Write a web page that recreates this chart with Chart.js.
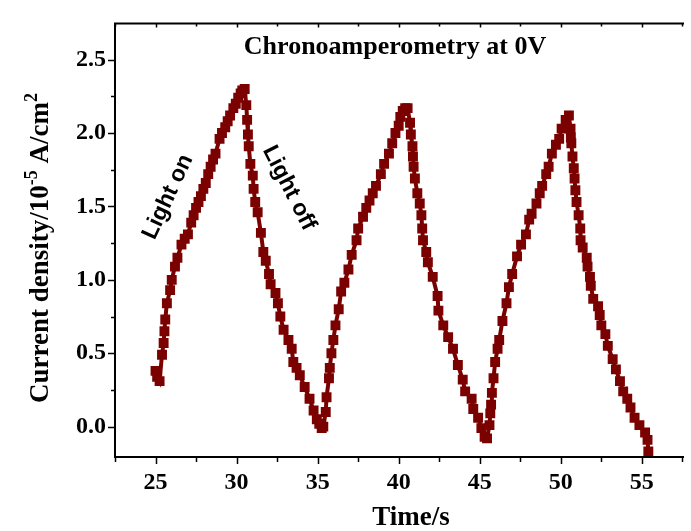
<!DOCTYPE html>
<html>
<head>
<meta charset="utf-8">
<script src="https://cdn.jsdelivr.net/npm/chart.js@4.4.1/dist/chart.umd.min.js"></script>
<style>
  html, body { margin: 0; padding: 0; background: #ffffff; }
  #wrap { width: 691px; height: 531px; overflow: hidden; }
  canvas { display: block; }
</style>
</head>
<body>
<div id="wrap"><canvas id="chart" width="691" height="531"></canvas></div>
<script>
// Time (s) of each sample
const timeS = [
  25.0, 25.1, 25.25, 25.4, 25.5, 25.55, 25.6, 25.7, 25.9, 26.0, 26.2, 26.35, 26.6, 26.8, 27.0, 27.2, 27.35, 27.5,
  27.65, 27.8, 27.95, 28.1, 28.25, 28.4, 28.55, 28.7, 28.95, 29.1, 29.3, 29.45, 29.6, 29.8, 29.95, 30.1, 30.25, 30.35, 30.5,
  30.6, 30.65, 30.7, 30.75, 30.85, 31.0, 31.05, 31.15, 31.3, 31.5, 31.65, 31.8, 32.0, 32.1, 32.4, 32.55, 32.7, 32.9,
  33.2, 33.4, 33.5, 33.7, 33.9, 34.2, 34.5, 34.75, 34.95, 35.1, 35.25, 35.35,
  35.5, 35.55, 35.7, 35.75, 35.85, 35.97, 36.1, 36.3, 36.45, 36.65, 36.9, 37.1, 37.4, 37.5, 37.8, 38.0, 38.2, 38.4,
  38.6, 38.9, 39.1, 39.4, 39.6, 39.8, 40.0, 40.1, 40.25, 40.4, 40.55,
  40.7, 40.75, 40.85, 40.88, 40.92, 41.0, 41.15, 41.3, 41.4, 41.45, 41.5, 41.7, 41.8, 42.1, 42.4, 42.45, 42.75, 43.05,
  43.35, 43.65, 43.95, 44.1, 44.5, 44.6, 44.9, 45.1, 45.3, 45.45,
  45.6, 45.65, 45.7, 45.75, 45.85, 45.95, 46.1, 46.2, 46.4, 46.65, 46.8, 47.0, 47.3, 47.55, 47.85, 48.05, 48.2, 48.5,
  48.7, 48.85, 49.1, 49.25, 49.45, 49.7, 49.9, 50.05, 50.3, 50.5,
  50.6, 50.62, 50.65, 50.72, 50.8, 50.85, 50.9, 50.97, 51.1, 51.2, 51.22, 51.35, 51.6, 51.65, 51.8, 51.85, 52.0, 52.3,
  52.4, 52.5, 52.75, 52.9, 53.2, 53.4, 53.65, 53.85, 54.1, 54.3, 54.55, 54.85, 55.2, 55.35, 55.4
];

// Current density (10^-5 A/cm^2) at each sample
const currentDensity = [
  0.38, 0.34, 0.31, 0.49, 0.57, 0.65, 0.73, 0.84, 0.93, 1.00, 1.09, 1.15, 1.24, 1.28, 1.31, 1.39, 1.44, 1.49,
  1.53, 1.57, 1.62, 1.66, 1.72, 1.77, 1.82, 1.86, 1.96, 2.00, 2.04, 2.08, 2.12, 2.17, 2.20, 2.24, 2.27, 2.29, 2.30,
  2.19, 2.09, 1.99, 1.91, 1.79, 1.71, 1.62, 1.53, 1.46, 1.32, 1.19, 1.13, 1.04, 0.97, 0.91, 0.84, 0.75, 0.66,
  0.59, 0.53, 0.44, 0.40, 0.35, 0.27, 0.19, 0.11, 0.05, 0.02, -0.01, 0.00,
  0.10, 0.20, 0.33, 0.40, 0.50, 0.59, 0.69, 0.80, 0.92, 0.98, 1.07, 1.17, 1.27, 1.35, 1.43, 1.49, 1.54, 1.59,
  1.64, 1.72, 1.79, 1.86, 1.93, 2.00, 2.05, 2.11, 2.15, 2.17, 2.17,
  2.07, 1.99, 1.91, 1.84, 1.77, 1.69, 1.59, 1.52, 1.44, 1.35, 1.27, 1.19, 1.12, 1.02, 0.89, 0.79, 0.69, 0.61,
  0.53, 0.42, 0.32, 0.24, 0.19, 0.12, 0.06, -0.01, -0.07, -0.08,
  0.01, 0.09, 0.15, 0.23, 0.33, 0.44, 0.53, 0.59, 0.72, 0.84, 0.95, 1.04, 1.16, 1.24, 1.31, 1.41, 1.45, 1.52,
  1.59, 1.64, 1.72, 1.77, 1.86, 1.92, 1.96, 2.03, 2.09, 2.12,
  2.03, 1.97, 1.93, 1.84, 1.76, 1.69, 1.61, 1.53, 1.44, 1.35, 1.27, 1.22, 1.15, 1.09, 1.02, 0.96, 0.87, 0.82,
  0.76, 0.69, 0.63, 0.55, 0.46, 0.39, 0.31, 0.24, 0.19, 0.13, 0.06, 0.01, -0.04, -0.09, -0.17
];

// Axis ticks
const xMajorTicks = [25, 30, 35, 40, 45, 50, 55];
const xMinorTicks = [22.5, 27.5, 32.5, 37.5, 42.5, 47.5, 52.5, 57.5];
const yMajorTicks = [0.0, 0.5, 1.0, 1.5, 2.0, 2.5];
const yMinorTicks = [0.25, 0.75, 1.25, 1.75, 2.25];

const titleText = 'Chronoamperometry at 0V';
const xTitle = 'Time/s';
const lightOnText = 'Light on';
const lightOffText = 'Light off';

const MAROON = '#7b0000';
const SERIF = '"Liberation Serif", "Times New Roman", serif';
const SANS = '"Liberation Sans", Arial, sans-serif';

// Axis frame, tick marks, titles and annotations
const framePlugin = {
  id: 'frame',
  afterDraw(chart) {
    const { ctx, chartArea: a, scales: { x, y } } = chart;
    ctx.save();
    ctx.strokeStyle = '#000';
    ctx.lineWidth = 2;
    ctx.lineCap = 'butt';
    ctx.beginPath();
    ctx.moveTo(a.left, a.top - 1); ctx.lineTo(a.left, a.bottom + 1);
    ctx.moveTo(a.left - 1, a.bottom); ctx.lineTo(a.right, a.bottom);
    ctx.moveTo(a.left - 1, a.top); ctx.lineTo(a.right, a.top);
    ctx.stroke();

    ctx.lineWidth = 1.5;
    ctx.beginPath();
    xMajorTicks.forEach(v => {
      const px = Math.round(x.getPixelForValue(v)) + 0.5;
      ctx.moveTo(px, a.bottom); ctx.lineTo(px, a.bottom + 7);
      ctx.moveTo(px, a.top); ctx.lineTo(px, a.top + 4);
    });
    xMinorTicks.forEach(v => {
      const px = Math.round(x.getPixelForValue(v)) + 0.5;
      ctx.moveTo(px, a.bottom); ctx.lineTo(px, a.bottom + 5);
      ctx.moveTo(px, a.top); ctx.lineTo(px, a.top + 3);
    });
    yMajorTicks.forEach(v => {
      const py = Math.round(y.getPixelForValue(v)) + 0.5;
      ctx.moveTo(a.left, py); ctx.lineTo(a.left - 7, py);
    });
    yMinorTicks.forEach(v => {
      const py = Math.round(y.getPixelForValue(v)) + 0.5;
      ctx.moveTo(a.left, py); ctx.lineTo(a.left - 4, py);
    });
    ctx.stroke();

    ctx.fillStyle = '#000';
    // chart title
    ctx.font = 'bold 26px ' + SERIF;
    ctx.textAlign = 'center';
    ctx.textBaseline = 'alphabetic';
    ctx.fillText(titleText, 395, 54);

    // x axis title
    ctx.font = 'bold 27px ' + SERIF;
    ctx.fillText(xTitle, 411, 525);

    // y axis title with superscripts
    const parts = [
      { t: 'Current density/10', sup: false },
      { t: '-5', sup: true },
      { t: ' A/cm', sup: false },
      { t: '2', sup: true }
    ];
    const baseFont = 'bold 27px ' + SERIF;
    const supFont = 'bold 18px ' + SERIF;
    let total = 0;
    parts.forEach(p => { ctx.font = p.sup ? supFont : baseFont; p.w = ctx.measureText(p.t).width; total += p.w; });
    ctx.save();
    ctx.translate(48, 248);
    ctx.rotate(-Math.PI / 2);
    ctx.textAlign = 'left';
    let cx = -total / 2;
    parts.forEach(p => {
      ctx.font = p.sup ? supFont : baseFont;
      ctx.fillText(p.t, cx, p.sup ? -11 : 0);
      cx += p.w;
    });
    ctx.restore();

    // light on / off annotations
    ctx.font = 'bold 23px ' + SANS;
    ctx.textAlign = 'center';
    ctx.textBaseline = 'middle';
    ctx.save();
    ctx.translate(168, 197);
    ctx.rotate(-65 * Math.PI / 180);
    ctx.fillText(lightOnText, 0, 0);
    ctx.restore();
    ctx.save();
    ctx.translate(289, 188);
    ctx.rotate(63 * Math.PI / 180);
    ctx.fillText(lightOffText, 0, 0);
    ctx.restore();
    ctx.restore();
  }
};

const points = timeS.map((t, i) => ({ x: t, y: currentDensity[i] }));

new Chart(document.getElementById('chart'), {
  type: 'scatter',
  data: {
    datasets: [{
      data: points,
      showLine: true,
      borderColor: MAROON,
      backgroundColor: MAROON,
      borderWidth: 4,
      pointStyle: 'rect',
      pointRadius: 7,
      pointBorderWidth: 0,
      pointBackgroundColor: MAROON,
      tension: 0
    }]
  },
  options: {
    responsive: false,
    animation: false,
    devicePixelRatio: 1,
    layout: { padding: { top: 14, right: 0, left: 0, bottom: 0 } },
    plugins: { legend: { display: false }, tooltip: { enabled: false } },
    scales: {
      x: {
        type: 'linear',
        min: 22.5,
        max: 57.6,
        grid: { display: false, drawTicks: false },
        border: { display: false },
        afterBuildTicks: s => { s.ticks = xMajorTicks.map(v => ({ value: v })); },
        afterFit: s => { s.height = 74; },
        ticks: {
          padding: 11,
          color: '#000',
          font: { family: SERIF, size: 24, weight: 'bold' },
          callback: v => String(v)
        }
      },
      y: {
        type: 'linear',
        min: -0.207,
        max: 2.747,
        grid: { display: false, drawTicks: false },
        border: { display: false },
        afterBuildTicks: s => { s.ticks = yMajorTicks.map(v => ({ value: v })); },
        afterFit: s => { s.width = 115; },
        ticks: {
          padding: 9,
          color: '#000',
          font: { family: SERIF, size: 24, weight: 'bold' },
          callback: v => Number(v).toFixed(1)
        }
      }
    }
  },
  plugins: [framePlugin]
});
</script>
</body>
</html>
